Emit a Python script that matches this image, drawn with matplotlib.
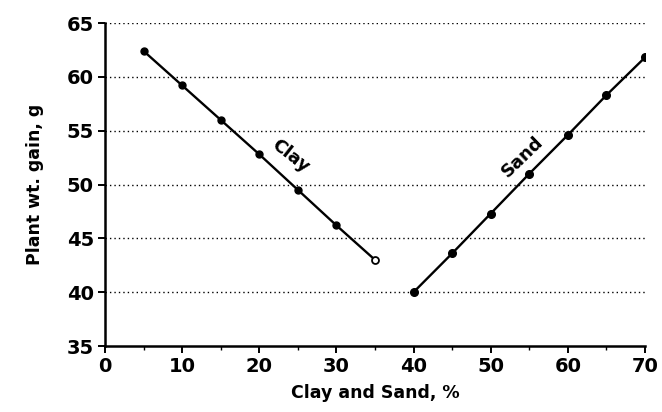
import matplotlib
matplotlib.use('Agg')
import matplotlib.pyplot as plt
from matplotlib.ticker import MultipleLocator

# ---- data ----
clay_x = [5, 10, 15, 20, 25, 30, 35]
clay_y = [62.4, 59.2, 56.0, 52.8, 49.5, 46.2, 43.0]
sand_x = [40, 45, 50, 55, 60, 65, 70]
sand_y = [40.0, 43.6, 47.3, 51.0, 54.6, 58.3, 61.8]
grid_levels = [40, 45, 50, 55, 60, 65]

plt.rcParams['font.family'] = ['DejaVu Sans']
plt.rcParams['font.weight'] = 'bold'

fig = plt.figure(figsize=(6.62, 4.12), dpi=100)
ax = fig.add_axes([105 / 662, 1 - 346 / 412, 540 / 662, 323 / 412])

for g in grid_levels:
    ax.axhline(g, color='black', lw=1.0, ls=(0, (1, 2.2)), zorder=1)

# clay: filled points, last one open
ax.plot(clay_x, clay_y, color='black', lw=1.7, zorder=3)
ax.plot(clay_x[:-1], clay_y[:-1], 'o', ms=5, color='black', zorder=4)
ax.plot(clay_x[-1:], clay_y[-1:], 'o', ms=5, mfc='white', mec='black', mew=1.3, zorder=4)

ax.plot(sand_x, sand_y, color='black', lw=1.7, zorder=3)
ax.plot(sand_x, sand_y, 'o', ms=5.5, color='black', zorder=4)

ax.text(24.0, 52.6, 'Clay', rotation=-38, ha='center', va='center',
        fontsize=13, fontweight='bold')
ax.text(54.1, 52.6, 'Sand', rotation=44, ha='center', va='center',
        fontsize=13, fontweight='bold')

ax.set_xlim(0, 70)
ax.set_ylim(35, 65)
ax.xaxis.set_major_locator(MultipleLocator(10))
ax.xaxis.set_minor_locator(MultipleLocator(5))
ax.yaxis.set_major_locator(MultipleLocator(5))

for s in ('top', 'right'):
    ax.spines[s].set_visible(False)
for s in ('left', 'bottom'):
    ax.spines[s].set_linewidth(1.8)

ax.tick_params(axis='both', which='major', direction='out', length=5, width=1.4,
               labelsize=14, pad=3)
ax.tick_params(axis='x', which='minor', direction='out', length=3, width=1.0)
for lab in ax.get_xticklabels() + ax.get_yticklabels():
    lab.set_fontweight('bold')

ax.set_xlabel('Clay and Sand, %', fontsize=12.5, fontweight='bold', labelpad=6)
ax.set_ylabel('Plant wt. gain, g', fontsize=12.5, fontweight='bold', labelpad=16)

fig.savefig('out.png', dpi=100)
